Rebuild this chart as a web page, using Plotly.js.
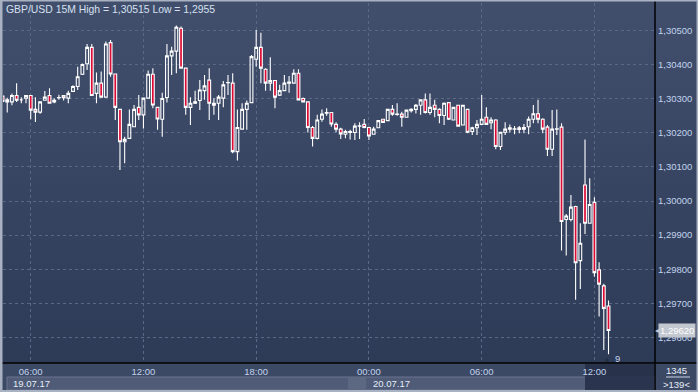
<!DOCTYPE html>
<html><head><meta charset="utf-8">
<script src="https://cdn.plot.ly/plotly-3.0.1.min.js"></script>
<style>
html,body{margin:0;padding:0;background:#2f3c58;overflow:hidden;}
#wrap{position:relative;width:698px;height:392px;background:linear-gradient(to bottom,#414f6d 0px,#2e3b57 363px,#2e3b57 392px);}
#chart{position:absolute;left:0;top:0;width:698px;height:392px;}
</style></head><body><div id="wrap"><div id="chart"></div></div>
<script>
// 15-minute candles, GBP/USD, starting 19.07.17 04:30
const firstCandle = [2017, 6, 19, 4, 30];
const candleMinutes = 15;

const openP = [
1.30308,1.30297,1.30291,1.30310,1.30297,1.30302,1.30310,1.30269,1.30261,1.30296,
1.30310,1.30291,1.30303,1.30310,1.30302,1.30322,1.30336,1.30372,1.30403,1.30451,
1.30316,1.30346,1.30305,1.30465,1.30373,1.30269,1.30174,1.30184,1.30218,1.30275,
1.30253,1.30302,1.30372,1.30275,1.30240,1.30304,1.30426,1.30440,1.30507,1.30390,
1.30275,1.30287,1.30295,1.30324,1.30355,1.30287,1.30287,1.30302,1.30347,1.30346,
1.30145,1.30211,1.30269,1.30289,1.30416,1.30451,1.30387,1.30346,1.30354,1.30311,
1.30324,1.30346,1.30346,1.30375,1.30301,1.30291,1.30216,1.30184,1.30240,1.30258,
1.30260,1.30225,1.30211,1.30196,1.30201,1.30201,1.30220,1.30225,1.30216,1.30196,
1.30215,1.30240,1.30236,1.30269,1.30254,1.30255,1.30246,1.30265,1.30269,1.30281,
1.30297,1.30260,1.30281,1.30269,1.30251,1.30289,1.30238,1.30281,1.30223,1.30269,
1.30204,1.30215,1.30225,1.30246,1.30230,1.30238,1.30160,1.30202,1.30215,1.30211,
1.30215,1.30216,1.30218,1.30240,1.30256,1.30240,1.30217,1.30152,1.30211,1.30217,
1.29946,1.29946,1.29984,1.29825,1.30047,1.29935,1.29996,1.29798,1.29751,1.29692];

const highP = [
1.30310,1.30303,1.30316,1.30346,1.30305,1.30311,1.30311,1.30305,1.30292,1.30323,
1.30331,1.30302,1.30312,1.30311,1.30324,1.30340,1.30394,1.30404,1.30461,1.30461,
1.30377,1.30380,1.30468,1.30473,1.30374,1.30270,1.30189,1.30269,1.30282,1.30311,
1.30302,1.30383,1.30390,1.30276,1.30318,1.30461,1.30453,1.30515,1.30512,1.30391,
1.30305,1.30324,1.30355,1.30370,1.30390,1.30302,1.30311,1.30352,1.30370,1.30375,
1.30269,1.30287,1.30295,1.30429,1.30502,1.30494,1.30390,1.30422,1.30355,1.30341,
1.30370,1.30367,1.30387,1.30387,1.30304,1.30291,1.30220,1.30253,1.30269,1.30272,
1.30261,1.30231,1.30215,1.30209,1.30209,1.30228,1.30231,1.30241,1.30218,1.30218,
1.30238,1.30241,1.30270,1.30282,1.30287,1.30262,1.30269,1.30272,1.30285,1.30297,
1.30316,1.30316,1.30297,1.30272,1.30289,1.30290,1.30277,1.30282,1.30282,1.30270,
1.30218,1.30238,1.30311,1.30275,1.30246,1.30240,1.30202,1.30231,1.30225,1.30220,
1.30220,1.30226,1.30248,1.30282,1.30297,1.30243,1.30223,1.30267,1.30269,1.30228,
1.29962,1.30018,1.29986,1.29935,1.30181,1.30067,1.30011,1.29820,1.29757,1.29708];

const lowP = [
1.30290,1.30260,1.30281,1.30291,1.30287,1.30287,1.30240,1.30232,1.30256,1.30295,
1.30286,1.30287,1.30297,1.30295,1.30287,1.30321,1.30326,1.30370,1.30385,1.30309,
1.30287,1.30304,1.30304,1.30365,1.30238,1.30091,1.30111,1.30184,1.30218,1.30238,
1.30213,1.30301,1.30272,1.30209,1.30189,1.30289,1.30370,1.30375,1.30389,1.30253,
1.30223,1.30285,1.30267,1.30297,1.30238,1.30253,1.30238,1.30275,1.30311,1.30140,
1.30119,1.30209,1.30209,1.30289,1.30394,1.30346,1.30324,1.30324,1.30272,1.30308,
1.30323,1.30318,1.30345,1.30296,1.30290,1.30201,1.30160,1.30181,1.30233,1.30250,
1.30218,1.30202,1.30182,1.30184,1.30181,1.30179,1.30182,1.30214,1.30179,1.30195,
1.30214,1.30230,1.30235,1.30250,1.30250,1.30218,1.30245,1.30260,1.30257,1.30253,
1.30257,1.30253,1.30246,1.30228,1.30223,1.30238,1.30237,1.30218,1.30222,1.30199,
1.30194,1.30194,1.30223,1.30223,1.30211,1.30152,1.30150,1.30194,1.30201,1.30196,
1.30199,1.30199,1.30196,1.30228,1.30228,1.30199,1.30132,1.30132,1.30194,1.29855,
1.29840,1.29940,1.29710,1.29742,1.29903,1.29934,1.29778,1.29661,1.29563,1.29550];

const closeP = [
1.30292,1.30291,1.30310,1.30296,1.30297,1.30310,1.30267,1.30261,1.30291,1.30305,
1.30287,1.30296,1.30304,1.30303,1.30316,1.30336,1.30365,1.30401,1.30451,1.30310,
1.30346,1.30305,1.30461,1.30373,1.30275,1.30174,1.30181,1.30225,1.30269,1.30253,
1.30302,1.30372,1.30282,1.30241,1.30301,1.30426,1.30440,1.30510,1.30390,1.30275,
1.30287,1.30291,1.30326,1.30338,1.30287,1.30281,1.30305,1.30341,1.30348,1.30145,
1.30216,1.30269,1.30287,1.30424,1.30451,1.30390,1.30346,1.30354,1.30305,1.30324,
1.30346,1.30349,1.30375,1.30297,1.30291,1.30216,1.30184,1.30238,1.30255,1.30260,
1.30226,1.30211,1.30197,1.30204,1.30204,1.30220,1.30221,1.30216,1.30191,1.30211,
1.30236,1.30231,1.30269,1.30255,1.30255,1.30246,1.30267,1.30269,1.30281,1.30297,
1.30260,1.30275,1.30269,1.30251,1.30287,1.30240,1.30275,1.30220,1.30281,1.30202,
1.30215,1.30225,1.30240,1.30225,1.30238,1.30160,1.30202,1.30211,1.30211,1.30212,
1.30210,1.30211,1.30240,1.30256,1.30240,1.30211,1.30152,1.30211,1.30212,1.29940,
1.29956,1.29982,1.29819,1.29876,1.29935,1.29990,1.29790,1.29756,1.29685,1.29620];

const xTickVals = ['2017-07-19 06:00','2017-07-19 12:00','2017-07-19 18:00','2017-07-20 00:00','2017-07-20 06:00','2017-07-20 12:00'];
const xTickText = ['06:00','12:00','18:00','00:00','06:00','12:00'];
const yTickVals = [1.296,1.297,1.298,1.299,1.300,1.301,1.302,1.303,1.304,1.305];
const dateLabels = ['19.07.17','20.07.17'];
const titleText = 'GBP/USD 15M High = 1,30515 Low = 1,2955';
const lastPriceText = '1,29620';
const lastPrice = 1.29620;

function pad(n){return (n<10?'0':'')+n;}
const times = [];
{
  const t0 = Date.UTC(firstCandle[0], firstCandle[1], firstCandle[2], firstCandle[3], firstCandle[4]);
  for (let i = 0; i < openP.length; i++) {
    const d = new Date(t0 + i*candleMinutes*60000);
    times.push(d.getUTCFullYear()+'-'+pad(d.getUTCMonth()+1)+'-'+pad(d.getUTCDate())+' '+pad(d.getUTCHours())+':'+pad(d.getUTCMinutes()));
  }
}

const W=698,H=392,L=3,R=43,T=3,B=29;
const pw=W-L-R, ph=H-T-B;
const px=v=>(v-L)/pw;
const py=v=>(H-B-v)/ph;

const lbl = '#c2d3ee';
const FONT = 'Liberation Sans, Arial, sans-serif';

const trace = {
  type:'candlestick', x:times, open:openP, high:highP, low:lowP, close:closeP,
  increasing:{line:{color:'#ffffff',width:1.1}, fillcolor:'rgba(0,0,0,0)'},
  decreasing:{line:{color:'#ffffff',width:1.1}, fillcolor:'#dc0a34'},
  whiskerwidth:0, hoverinfo:'skip'
};

const shapes = [
  {type:'rect',xref:'paper',yref:'paper',x0:px(0),x1:px(698),y0:py(392),y1:py(363),fillcolor:'#3c4965',line:{width:0},layer:'below'},
  {type:'rect',xref:'paper',yref:'paper',x0:px(7),x1:px(655),y0:py(390),y1:py(377),fillcolor:'#4f5b77',line:{color:'#6a7590',width:1},layer:'below'},
  {type:'rect',xref:'paper',yref:'paper',x0:px(348),x1:px(366),y0:py(390),y1:py(377),fillcolor:'#5c6782',line:{width:0},layer:'below'},
  {type:'rect',xref:'paper',yref:'paper',x0:px(585),x1:px(654),y0:py(390),y1:py(364),fillcolor:'rgba(36,46,70,0.85)',line:{width:0},layer:'below'},
  {type:'rect',xref:'paper',yref:'paper',x0:px(655),x1:px(698),y0:py(390),y1:py(363),fillcolor:'#3c4965',line:{width:0},layer:'below'},
  {type:'line',xref:'paper',yref:'paper',x0:px(666),x1:px(690),y0:py(377),y1:py(377),line:{color:'#c8d4e8',width:1}},
  {type:'line',xref:'paper',yref:'paper',x0:px(655),x1:px(655),y0:py(392),y1:py(0),line:{color:'#000000',width:1.5}},
  {type:'line',xref:'paper',yref:'paper',x0:px(0),x1:px(698),y0:py(363),y1:py(363),line:{color:'#000000',width:1.5}},
  {type:'rect',xref:'paper',yref:'paper',x0:px(0),x1:px(2.5),y0:py(392),y1:py(0),fillcolor:'#a9b2c2',line:{width:0}},
  {type:'rect',xref:'paper',yref:'paper',x0:px(0),x1:px(698),y0:py(392),y1:py(390),fillcolor:'#a9b2c2',line:{width:0}},
  {type:'rect',xref:'paper',yref:'paper',x0:px(0),x1:px(698),y0:py(1.5),y1:py(0),fillcolor:'#a9b2c2',line:{width:0}},
  {type:'rect',xref:'paper',yref:'paper',x0:px(696.5),x1:px(698),y0:py(392),y1:py(0),fillcolor:'#a9b2c2',line:{width:0}}
];

const annotations = [
  {xref:'paper',yref:'paper',x:px(4),y:py(2),xanchor:'left',yanchor:'top',text:titleText,showarrow:false,font:{family:FONT,size:10.4,color:'#d6e0f0'}},
  {xref:'paper',yref:'paper',x:px(11),y:py(383.5),xanchor:'left',yanchor:'middle',text:dateLabels[0],showarrow:false,font:{family:FONT,size:9.5,color:'#e4ecf8'}},
  {xref:'paper',yref:'paper',x:px(371),y:py(383.5),xanchor:'left',yanchor:'middle',text:dateLabels[1],showarrow:false,font:{family:FONT,size:9.5,color:'#e4ecf8'}},
  {xref:'paper',yref:'paper',x:px(676),y:py(370),xanchor:'center',yanchor:'middle',text:'1345',showarrow:false,font:{family:FONT,size:9.5,color:'#e4ecf8'}},
  {xref:'paper',yref:'paper',x:px(676),y:py(384),xanchor:'center',yanchor:'middle',text:'&gt;139&lt;',showarrow:false,font:{family:FONT,size:9.5,color:'#e4ecf8'}},
  {xref:'paper',yref:'paper',x:px(617),y:py(358),xanchor:'center',yanchor:'middle',text:'9',showarrow:false,font:{family:FONT,size:9.5,color:'#c2d3ee'}},
  {xref:'paper',yref:'paper',x:px(607),y:py(359),xanchor:'center',yanchor:'middle',text:'▲',showarrow:false,font:{family:FONT,size:8,color:'#252e42'}},
  {xref:'paper',yref:'y',x:px(658),y:lastPrice,xanchor:'left',yanchor:'middle',text:lastPriceText,showarrow:false,
   bgcolor:'#c3c7cf',borderpad:1,font:{family:FONT,size:9.5,color:'#ffffff'}},
  {xref:'paper',yref:'y',x:px(653),y:lastPrice,xanchor:'left',yanchor:'middle',text:'◀',showarrow:false,font:{family:FONT,size:8,color:'#c3c7cf'}}
];

const layout = {
  width:W,height:H,margin:{l:L,r:R,t:T,b:B},
  paper_bgcolor:'rgba(0,0,0,0)',plot_bgcolor:'rgba(0,0,0,0)',
  separators:',.',showlegend:false,boxgap:0.15,
  font:{family:FONT,size:9.5,color:lbl},
  xaxis:{type:'date',range:['2017-07-19 04:31:30','2017-07-20 15:13:30'],
    tickmode:'array',tickvals:xTickVals,ticktext:xTickText,
    showgrid:true,gridcolor:'#5a6785',griddash:'3px,3px',gridwidth:1,
    zeroline:false,showline:false,ticks:'',ticklabelstandoff:1,
    tickfont:{family:FONT,size:9.5,color:lbl},
    rangeslider:{visible:false},fixedrange:true},
  yaxis:{side:'right',range:[1.295246,1.305813],
    tickmode:'array',tickvals:yTickVals,tickformat:'.5f',
    showgrid:true,gridcolor:'#5a6785',griddash:'3px,3px',gridwidth:1,
    zeroline:false,showline:false,ticks:'',ticklabelstandoff:2,
    tickfont:{family:FONT,size:9.5,color:lbl},fixedrange:true},
  shapes:shapes, annotations:annotations
};

Plotly.newPlot('chart',[trace],layout,{staticPlot:true,displayModeBar:false});
</script></body></html>
